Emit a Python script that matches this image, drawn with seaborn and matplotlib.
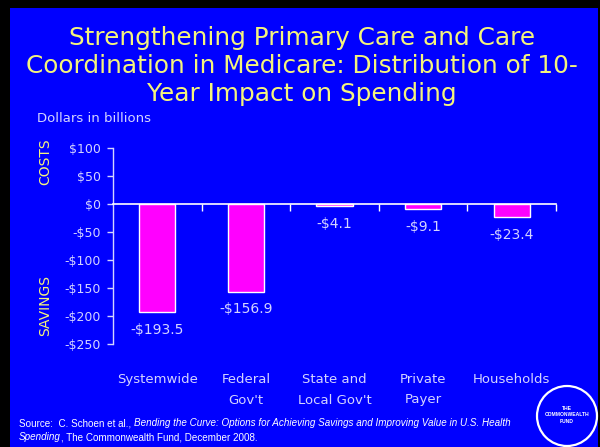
import matplotlib
matplotlib.use("Agg")
import matplotlib.pyplot as plt
from matplotlib.patches import Rectangle, Ellipse
import seaborn as sns
import pandas as pd

# Ten-year impact on spending, by payer (billions of dollars)
categories = ["Systemwide", "Federal\nGov't", "State and\nLocal Gov't", "Private\nPayer", "Households"]
values = [-193.5, -156.9, -4.1, -9.1, -23.4]
value_labels = ["-$193.5", "-$156.9", "-$4.1", "-$9.1", "-$23.4"]
y_ticks = [100, 50, 0, -50, -100, -150, -200, -250]
y_tick_labels = ["$100", "$50", "$0", "-$50", "-$100", "-$150", "-$200", "-$250"]

title = ("Strengthening Primary Care and Care\n"
         "Coordination in Medicare: Distribution of 10-\n"
         "Year Impact on Spending")

BLUE = "#0000FF"
YELLOW = "#F4F47C"
LAVENDER = "#D4D4FF"
MAGENTA = "#FF00FF"

sns.set_theme(style="white")
plt.rcParams["font.family"] = ["DejaVu Sans"]

W, H = 600, 447
fig = plt.figure(figsize=(W / 100, H / 100), dpi=100, facecolor="black")

# blue slide panel inside the black frame
fig.patches.append(Rectangle((10 / W, 0), (598 - 10) / W, (H - 8) / H,
                             transform=fig.transFigure, facecolor=BLUE,
                             edgecolor="none", zorder=-5))

ax = fig.add_axes([113 / W, 1 - 344 / H, (556 - 113) / W, (344 - 148) / H])
ax.set_facecolor("none")
ax.set_zorder(2)

df = pd.DataFrame({"category": categories, "value": values})
sns.barplot(data=df, x="category", y="value", ax=ax, color=MAGENTA,
            saturation=1, width=0.41, edgecolor="white", linewidth=1.0)

ax.set_xlim(-0.5, 4.5)
ax.set_ylim(-250, 100)
ax.set_xlabel("")
ax.set_ylabel("")

# spines: left axis in lavender, horizontal axis drawn at zero in white
for s in ("top", "right"):
    ax.spines[s].set_visible(False)
ax.spines["left"].set_color(LAVENDER)
ax.spines["left"].set_linewidth(1.0)
ax.spines["bottom"].set_position(("data", 0))
ax.spines["bottom"].set_color("white")
ax.spines["bottom"].set_linewidth(1.2)

ax.set_yticks(y_ticks)
ax.set_yticklabels(y_tick_labels)
ax.tick_params(axis="y", direction="out", length=4, width=1, color=LAVENDER,
               labelcolor=LAVENDER, labelsize=9, pad=5, left=True)

# tick marks at category boundaries, labels placed below the plot
ax.set_xticks([i + 0.5 for i in range(len(categories))])
ax.set_xticklabels([])
ax.tick_params(axis="x", direction="out", length=5, width=1, color="white",
               bottom=True)

xy_trans = ax.get_xaxis_transform()
label_top = -(373 - 344) / (344 - 148)
for i, lab in enumerate(categories):
    ax.text(i, label_top, lab, transform=xy_trans, ha="center", va="top",
            color=LAVENDER, fontsize=9.5, linespacing=1.75, clip_on=False)

for i, (v, lab) in enumerate(zip(values, value_labels)):
    ax.annotate(lab, xy=(i, v), xytext=(0, -7.5), textcoords="offset points",
                ha="center", va="top", color=LAVENDER, fontsize=10)

# title and side annotations
fig.text(302 / W, 1 - 26 / H, title, ha="center", va="top", color=YELLOW,
         fontsize=17.8, linespacing=1.2)
fig.text(37 / W, 1 - 118 / H, "Dollars in billions", ha="left", va="center",
         color=LAVENDER, fontsize=9.5)
fig.text(45 / W, 1 - 162 / H, "COSTS", rotation=90, ha="center", va="center",
         color=YELLOW, fontsize=10)
fig.text(45 / W, 1 - 305 / H, "SAVINGS", rotation=90, ha="center", va="center",
         color=YELLOW, fontsize=10)

# source note with italic title, pieced together run by run
fig.canvas.draw()
renderer = fig.canvas.get_renderer()


def run(x_px, y_px, txt, style):
    t = fig.text(x_px / W, 1 - y_px / H, txt, ha="left", va="center",
                 color="white", fontsize=7.1, style=style,
                 family=["Liberation Sans", "DejaVu Sans"])
    bb = t.get_window_extent(renderer=renderer)
    return x_px + bb.width


x = run(19, 423, "Source:  C. Schoen et al., ", "normal")
run(x, 423, "Bending the Curve: Options for Achieving Savings and Improving Value in U.S. Health",
    "italic")
x = run(19, 437, "Spending", "italic")
run(x, 437, ", The Commonwealth Fund, December 2008.", "normal")

# Commonwealth Fund seal
fig.patches.append(Ellipse((567 / W, 1 - 416 / H), 60 / W, 60 / H,
                           transform=fig.transFigure, facecolor="none",
                           edgecolor="white", linewidth=1.6, zorder=3))
fig.text(567 / W, 1 - 415 / H, "THE\nCOMMONWEALTH\nFUND", ha="center", va="center",
         color="white", fontsize=3.6, fontweight="bold", linespacing=1.3,
         family=["Liberation Sans", "DejaVu Sans"])

fig.savefig("out.png", dpi=100, facecolor=fig.get_facecolor())
